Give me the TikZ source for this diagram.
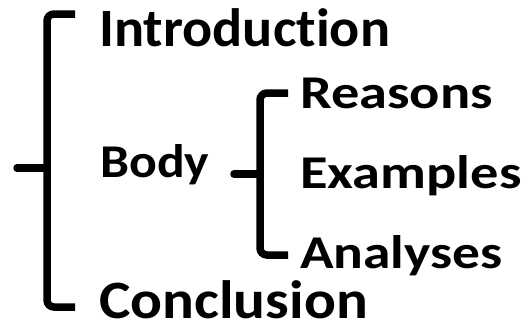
\documentclass[tikz,border=0pt]{standalone}
\usepackage{fontspec}
\setmainfont[Ligatures=NoCommon]{Carlito}
\usetikzlibrary{calc}
\newcommand{\wide}[2]{\scalebox{#1}[1]{#2}}

\begin{document}
\begin{tikzpicture}[x=1pt,y=-1pt,
  bigword/.style={anchor=base west,inner sep=0pt,font=\bfseries\fontsize{54}{54}\selectfont},
  word/.style={anchor=base west,inner sep=0pt,font=\bfseries\fontsize{47}{47}\selectfont},
  brack/.style={line width=7.5pt,rounded corners=7pt,line cap=butt},
  tick/.style={line width=7.5pt,line cap=round}]
  \useasboundingbox (0,0) rectangle (530,324);
  %words
  \node[bigword] (intro) at (99,46) {\wide{1.04}{Introduction}};
  \node[bigword] (concl) at (99,318.5) {\wide{1.1}{Conclusion}};
  \node[word] (body) at (100,177) {\wide{1.1}{Body}};
  \node[word] (reasons) at (300,108) {\wide{1.2}{Reasons}};
  \node[word] (examples) at (300,188) {\wide{1.2}{Examples}};
  \node[word] (analyses) at (300,268) {\wide{1.18}{Analyses}};
  %big bracket
  \coordinate (bt) at (75,14);
  \coordinate (bb) at (75,307);
  \coordinate (bm) at (17,168);
  \draw[brack] (bt) -- (47,14) -- (47,307) -- (bb);
  \draw[tick] (bm) -- (44,168);
  %small bracket
  \coordinate (st) at (288,93);
  \coordinate (sb) at (288,255);
  \coordinate (sm) at (234,174);
  \draw[brack] (st) -- (260,93) -- (260,255) -- (sb);
  \draw[tick] (sm) -- (257,174);
\end{tikzpicture}
\end{document}
